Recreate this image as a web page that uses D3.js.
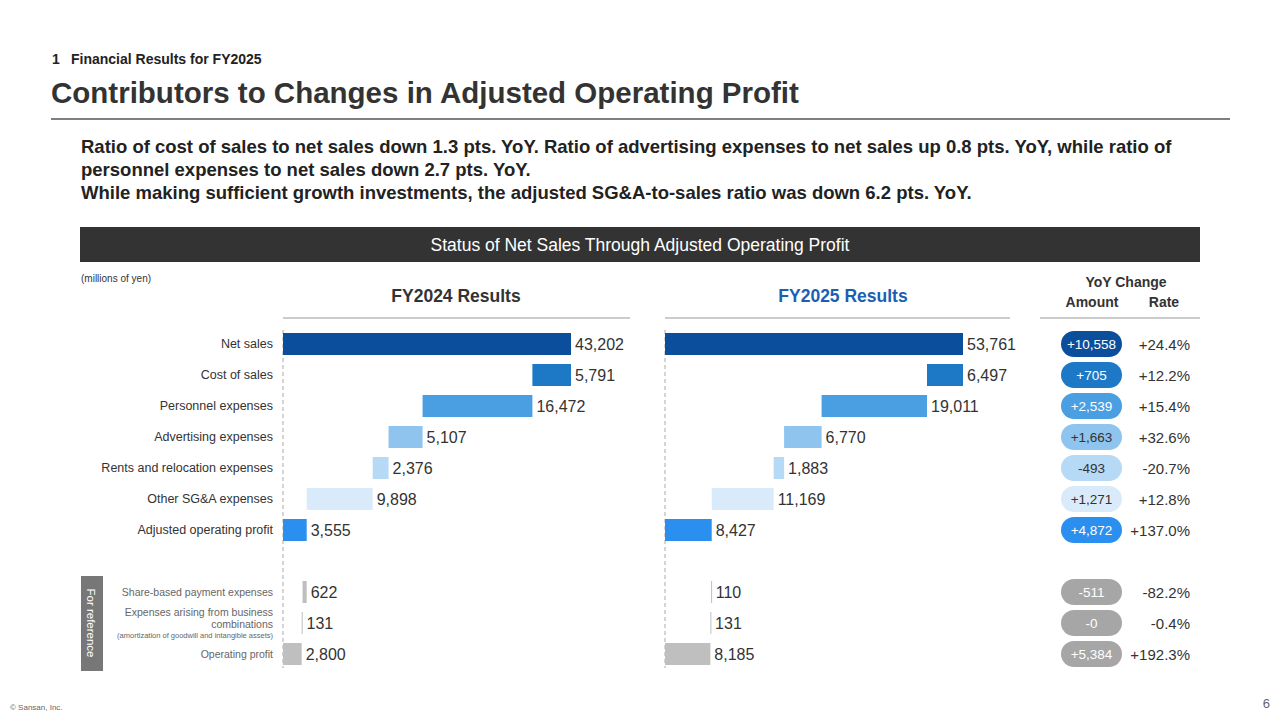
<!DOCTYPE html>
<html><head><meta charset="utf-8">
<script src="https://cdn.jsdelivr.net/npm/d3@7"></script>
<style>body{margin:0;background:#fff}text{font-family:Arial,"Liberation Sans",sans-serif}</style>
</head><body><div id="chart"></div>
<script>
var W = 1280, H = 720;
var svg = d3.select("#chart").append("svg").attr("width", W).attr("height", H);

// rows: label, FY2024, FY2025, change, rate, colour, text colour, kind
var rows = [
  {label: "Net sales", a: 43202, b: 53761, amt: "+10,558", rate: "+24.4%", fill: "#0b4f9c", tc: "#fff", kind: "total"},
  {label: "Cost of sales", a: 5791, b: 6497, amt: "+705", rate: "+12.2%", fill: "#1d78c6", tc: "#fff", kind: "down"},
  {label: "Personnel expenses", a: 16472, b: 19011, amt: "+2,539", rate: "+15.4%", fill: "#4a9fe2", tc: "#fff", kind: "down"},
  {label: "Advertising expenses", a: 5107, b: 6770, amt: "+1,663", rate: "+32.6%", fill: "#8fc4ef", tc: "#333", kind: "down"},
  {label: "Rents and relocation expenses", a: 2376, b: 1883, amt: "-493", rate: "-20.7%", fill: "#b6d9f6", tc: "#333", kind: "down"},
  {label: "Other SG&A expenses", a: 9898, b: 11169, amt: "+1,271", rate: "+12.8%", fill: "#d9ebfa", tc: "#333", kind: "down"},
  {label: "Adjusted operating profit", a: 3555, b: 8427, amt: "+4,872", rate: "+137.0%", fill: "#2b8ff0", tc: "#fff", kind: "total"}
];
var refs = [
  {label: "Share-based payment expenses", a: 622, b: 110, amt: "-511", rate: "-82.2%", fill: "#bfbfbf", kind: "down"},
  {label: "Expenses arising from business combinations", a: 131, b: 131, amt: "-0", rate: "-0.4%", fill: "#bfbfbf", kind: "down"},
  {label: "Operating profit", a: 2800, b: 8185, amt: "+5,384", rate: "+192.3%", fill: "#bfbfbf", kind: "total"}
];

// header texts
svg.append("text").attr("x", 52).attr("y", 64).attr("font-size", 14).attr("font-weight", "bold").attr("fill", "#222").text("1");
svg.append("text").attr("x", 71).attr("y", 64).attr("font-size", 14).attr("font-weight", "bold").attr("fill", "#222").text("Financial Results for FY2025");
svg.append("text").attr("x", 51).attr("y", 103).attr("font-size", 29.5).attr("font-weight", "bold").attr("fill", "#333").text("Contributors to Changes in Adjusted Operating Profit");
svg.append("line").attr("x1", 51).attr("x2", 1230).attr("y1", 119).attr("y2", 119).attr("stroke", "#555").attr("stroke-width", 1.5);
["Ratio of cost of sales to net sales down 1.3 pts. YoY. Ratio of advertising expenses to net sales up 0.8 pts. YoY, while ratio of",
 "personnel expenses to net sales down 2.7 pts. YoY.",
 "While making sufficient growth investments, the adjusted SG&A-to-sales ratio was down 6.2 pts. YoY."].forEach(function (t, i) {
  svg.append("text").attr("x", 81).attr("y", 153 + i * 23).attr("font-size", 18.5).attr("font-weight", "bold").attr("fill", "#222").text(t);
});
svg.append("rect").attr("x", 80).attr("y", 227).attr("width", 1120).attr("height", 35).attr("fill", "#333");
svg.append("text").attr("x", 640).attr("y", 251).attr("text-anchor", "middle").attr("font-size", 17.5).attr("fill", "#fff").text("Status of Net Sales Through Adjusted Operating Profit");
svg.append("text").attr("x", 81).attr("y", 282).attr("font-size", 10).attr("fill", "#333").text("(millions of yen)");

// panel titles
svg.append("text").attr("x", 456).attr("y", 302).attr("text-anchor", "middle").attr("font-size", 17.5).attr("font-weight", "bold").attr("fill", "#333").text("FY2024 Results");
svg.append("text").attr("x", 843).attr("y", 302).attr("text-anchor", "middle").attr("font-size", 17.5).attr("font-weight", "bold").attr("fill", "#1a5fb4").text("FY2025 Results");
svg.append("text").attr("x", 1126).attr("y", 287).attr("text-anchor", "middle").attr("font-size", 14).attr("font-weight", "bold").attr("fill", "#333").text("YoY Change");
svg.append("text").attr("x", 1092).attr("y", 307).attr("text-anchor", "middle").attr("font-size", 14).attr("font-weight", "bold").attr("fill", "#333").text("Amount");
svg.append("text").attr("x", 1164).attr("y", 307).attr("text-anchor", "middle").attr("font-size", 14).attr("font-weight", "bold").attr("fill", "#333").text("Rate");
[[283, 630], [665, 1010], [1040, 1200]].forEach(function (p) {
  svg.append("line").attr("x1", p[0]).attr("x2", p[1]).attr("y1", 318).attr("y2", 318).attr("stroke", "#bbb").attr("stroke-width", 1.5);
});

var all = rows.concat(refs);
var yPos = [344, 375, 406, 437, 468, 499, 530, 592, 623, 654];
var bh = 22;

// waterfall positions
function layout(key) {
  var out = [], run = 0;
  rows.forEach(function (r, i) {
    if (r.kind === "total") { out.push([0, r[key]]); run = r[key]; }
    else { out.push([run - r[key], run]); run -= r[key]; }
  });
  run = rows[6][key];
  refs.forEach(function (r) {
    if (r.kind === "total") out.push([0, r[key]]);
    else { out.push([run - r[key], run]); run -= r[key]; }
  });
  return out;
}

function panel(key, x0, x1) {
  var x = d3.scaleLinear().domain([0, rows[0][key]]).range([x0, x1]);
  var pos = layout(key);
  var g = svg.append("g");
  g.append("line").attr("x1", x0).attr("x2", x0).attr("y1", 330).attr("y2", 668).attr("stroke", "#aaa").attr("stroke-dasharray", "4,3");
  g.selectAll("rect.bar").data(all).enter().append("rect").attr("class", "bar")
    .attr("x", function (d, i) { return x(pos[i][0]); })
    .attr("width", function (d, i) { return Math.max(1, x(pos[i][1]) - x(pos[i][0])); })
    .attr("y", function (d, i) { return yPos[i] - bh / 2; }).attr("height", bh)
    .attr("fill", function (d) { return d.fill; });
  g.selectAll("text.val").data(all).enter().append("text").attr("class", "val")
    .attr("x", function (d, i) { return x(pos[i][1]) + 4; })
    .attr("y", function (d, i) { return yPos[i] + 6; })
    .attr("font-size", 16).attr("fill", "#333")
    .text(function (d) { return d3.format(",")(d[key]); });
}
panel("a", 283, 571);
panel("b", 665, 963);

// row labels
rows.forEach(function (r, i) {
  svg.append("text").attr("x", 273).attr("y", yPos[i] + 4).attr("text-anchor", "end").attr("font-size", 12.5).attr("fill", "#333").text(r.label);
});
svg.append("text").attr("x", 273).attr("y", yPos[7] + 4).attr("text-anchor", "end").attr("font-size", 10.5).attr("fill", "#666").text(refs[0].label);
svg.append("text").attr("x", 273).attr("y", 616).attr("text-anchor", "end").attr("font-size", 10.5).attr("fill", "#666").text("Expenses arising from business");
svg.append("text").attr("x", 273).attr("y", 628).attr("text-anchor", "end").attr("font-size", 10.5).attr("fill", "#666").text("combinations");
svg.append("text").attr("x", 273).attr("y", 638).attr("text-anchor", "end").attr("font-size", 7.5).attr("fill", "#666").text("(amortization of goodwill and intangible assets)");
svg.append("text").attr("x", 273).attr("y", yPos[9] + 4).attr("text-anchor", "end").attr("font-size", 10.5).attr("fill", "#666").text(refs[2].label);

svg.append("rect").attr("x", 81).attr("y", 576).attr("width", 22).attr("height", 95).attr("fill", "#777");
svg.append("text").attr("transform", "translate(87,623) rotate(90)").attr("text-anchor", "middle").attr("font-size", 11.5).attr("fill", "#fff").text("For reference");

// YoY pills
all.forEach(function (d, i) {
  var fill = i < 7 ? d.fill : "#a6a6a6";
  var tc = i < 7 ? d.tc : "#fff";
  svg.append("rect").attr("x", 1061).attr("y", yPos[i] - 13).attr("width", 61).attr("height", 26).attr("rx", 13).attr("fill", fill);
  svg.append("text").attr("x", 1091.5).attr("y", yPos[i] + 5).attr("text-anchor", "middle").attr("font-size", 13.5).attr("fill", tc).text(d.amt);
  svg.append("text").attr("x", 1190).attr("y", yPos[i] + 6).attr("text-anchor", "end").attr("font-size", 15).attr("fill", "#333").text(d.rate);
});

svg.append("text").attr("x", 10).attr("y", 710).attr("font-size", 8).attr("fill", "#666").text("© Sansan, Inc.");
svg.append("text").attr("x", 1270).attr("y", 708).attr("text-anchor", "end").attr("font-size", 13).attr("fill", "#666").text("6");
</script></body></html>
